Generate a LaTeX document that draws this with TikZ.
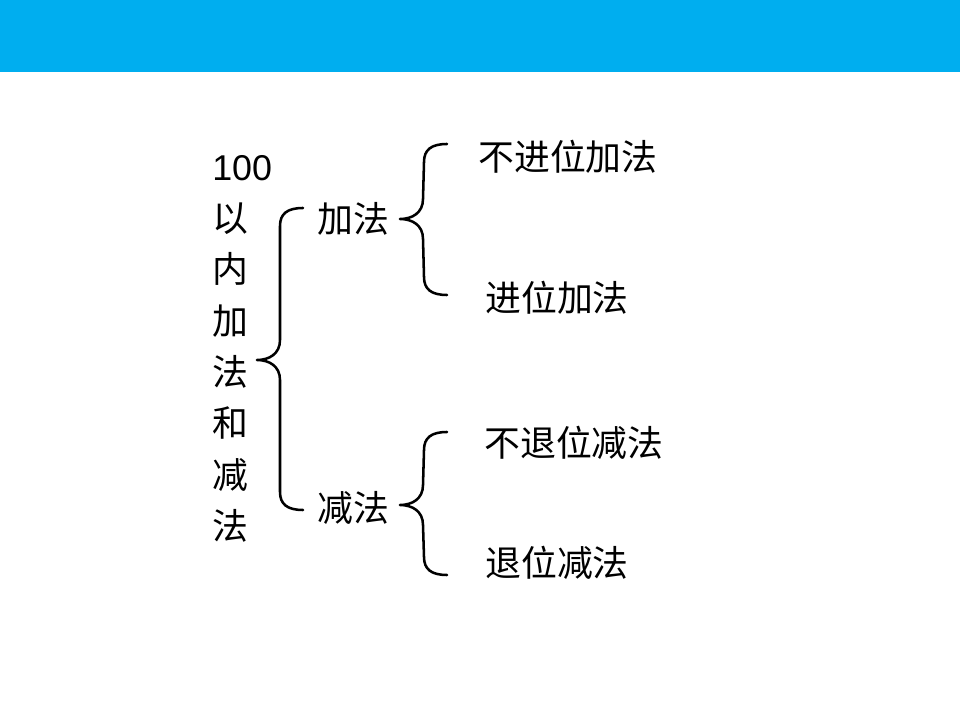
\documentclass[tikz,border=0pt]{standalone}
\usepackage{fontspec}
\setmainfont{Liberation Sans}
\newfontfamily\cjk{Noto Sans CJK SC}
\usetikzlibrary{calc}
\definecolor{barblue}{RGB}{0,174,239}

% curly brace: upper end, tip, lower end
\newcommand\curlybrace[3]{%
  \draw[brace] (#1) .. controls +(-16,0) and +(0,-12) .. ($(#1)+(-23,18)$)
    -- ($(#2)+(23,-20)$) .. controls +(0,14) and +(12,0) .. (#2)
    .. controls +(12,0) and +(0,-14) .. ($(#2)+(23,20)$)
    -- ($(#3)+(-23,-18)$) .. controls +(0,12) and +(-16,0) .. (#3);}

\begin{document}
\begin{tikzpicture}[x=0.025cm,y=-0.025cm,
  brace/.style={line width=1.8pt,line cap=round,line join=round},
  item/.style={anchor=west,inner sep=0pt,font=\cjk\fontsize{25.5}{30}\selectfont},
  title/.style={anchor=north west,inner sep=0pt,align=left,
    font=\cjk\fontsize{25.5}{36.5}\selectfont}
]
  \useasboundingbox (0,0) rectangle (960,720);
  \fill[barblue] (0,0) rectangle (960,72);

  \node[title] (root) at (212,155)
    {{\rmfamily 100}\\以\\内\\加\\法\\和\\减\\法};

  \node[item] (jia) at (317,219) {加法};
  \node[item] (jian) at (317,508) {减法};

  \node[item] (jia1) at (478,157) {不进位加法};
  \node[item] (jia2) at (485,298) {进位加法};
  \node[item] (jian1) at (484,443) {不退位减法};
  \node[item] (jian2) at (485,563) {退位减法};

  \coordinate (b0t) at (303,208); \coordinate (b0m) at (257,360);
  \coordinate (b0b) at (303,510);
  \coordinate (b1t) at (447,144); \coordinate (b1m) at (400,219);
  \coordinate (b1b) at (447,295);
  \coordinate (b2t) at (447,432); \coordinate (b2m) at (400,505);
  \coordinate (b2b) at (447,575);
  \curlybrace{b0t}{b0m}{b0b}
  \curlybrace{b1t}{b1m}{b1b}
  \curlybrace{b2t}{b2m}{b2b}
\end{tikzpicture}
\end{document}
